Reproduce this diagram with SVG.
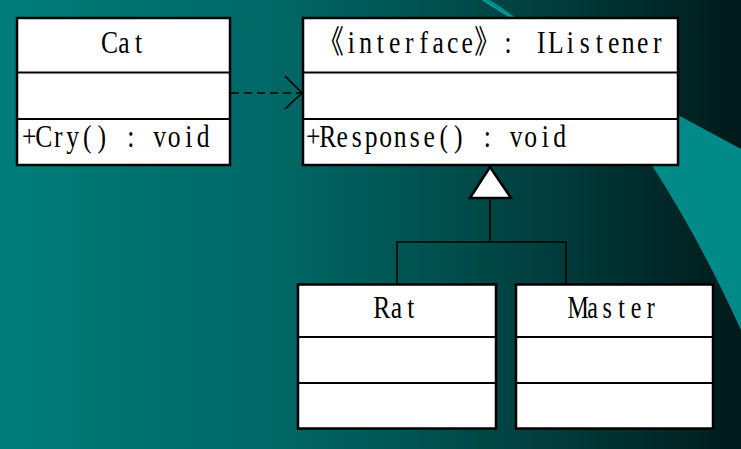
<svg xmlns="http://www.w3.org/2000/svg" width="741" height="449" viewBox="0 0 741 449">
<defs>
<linearGradient id="bg" x1="0" y1="0" x2="1" y2="0">
<stop offset="0" stop-color="#007d7a"/>
<stop offset="0.4" stop-color="#006563"/>
<stop offset="0.6" stop-color="#004f4d"/>
<stop offset="0.8" stop-color="#003534"/>
<stop offset="1" stop-color="#001a1b"/>
</linearGradient>
<style>
.box{fill:#fff;stroke:#000;stroke-width:2.5}
.div{stroke:#000;stroke-width:2;fill:none}
.t{font-family:"Liberation Serif","Noto Sans CJK SC",serif;font-size:32px;fill:#000;text-anchor:middle}
.c{stroke:#000;stroke-width:1.6;fill:none}
</style>
</defs>
<rect width="741" height="449" fill="url(#bg)"/>
<path d="M482,0 L490,0 Q600,70 653,167 Q700,240 741,330 L741,149 Q610,80 482,0 Z" fill="#008b89"/>
<path d="M483,0 L510,17" stroke="#0a9a98" stroke-width="1.5" fill="none"/>

<g id="cat">
<rect class="box" x="17" y="18" width="213" height="147"/>
<line class="div" x1="17" y1="72.5" x2="230" y2="72.5"/>
<line class="div" x1="17" y1="119" x2="230" y2="119"/>
<text class="t" transform="translate(102.25,0) scale(0.8,1)" x="9.06 27.19 45.31" y="53">Cat</text>
<text class="t" transform="translate(22,0) scale(0.8,1)" x="9.06 27.19 45.31 63.44 81.56 99.69 117.81 135.94 154.06 172.19 190.31 208.44 226.56" y="147">+Cry() : void</text>
</g>

<g id="ilistener">
<rect class="box" x="303" y="18" width="375" height="147"/>
<line class="div" x1="303" y1="72.5" x2="678" y2="72.5"/>
<line class="div" x1="303" y1="119" x2="678" y2="119"/>
<text class="t" transform="translate(344,0) scale(0.8,1)" x="-16.25 9.06 27.19 45.31 63.44 81.56 99.69 117.81 135.94 154.06 178.75 191.25 205 222.5 246.56 264.69 282.81 300.94 319.06 337.19 355.31 373.44 391.56" y="53">《interface》 : IListener</text>
<text class="t" transform="translate(306,0) scale(0.8,1)" x="9.06 27.19 45.31 63.44 81.56 99.69 117.81 135.94 154.06 172.19 190.31 208.44 226.56 244.69 262.81 280.94 299.06 317.19" y="147">+Response() : void</text>
</g>

<g id="rat">
<rect class="box" x="298" y="284.5" width="198" height="144"/>
<line class="div" x1="298" y1="337" x2="496" y2="337"/>
<line class="div" x1="298" y1="383" x2="496" y2="383"/>
<text class="t" transform="translate(374.65,0) scale(0.8,1)" x="9.06 27.19 45.31" y="318">Rat</text>
</g>

<g id="master">
<rect class="box" x="516" y="284.5" width="197" height="144"/>
<line class="div" x1="516" y1="337" x2="713" y2="337"/>
<line class="div" x1="516" y1="383" x2="713" y2="383"/>
<text class="t" transform="translate(570.9,0) scale(0.75,1)" x="9.67 29 48.33 67.67 87 106.33" y="318">Master</text>
</g>

<g id="connectors">
<line class="c" x1="231" y1="93" x2="301" y2="93" stroke-dasharray="8,5"/>
<polyline class="c" points="285,76 302,93 285,109"/>
<line class="c" x1="490" y1="198" x2="490" y2="242"/>
<polyline class="c" points="397,284 397,242 566,242 566,284"/>
<polygon points="490,167 470,198 511,198" fill="#fff" stroke="#000" stroke-width="2.5" stroke-linejoin="miter"/>
</g>
</svg>
